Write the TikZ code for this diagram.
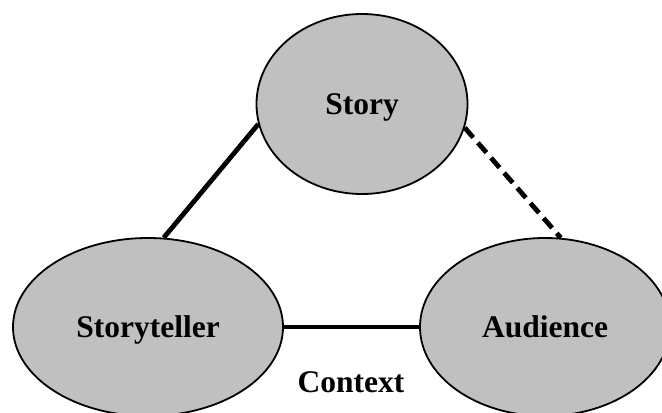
\documentclass[tikz,border=0pt]{standalone}
\usepackage{fontspec}
\setmainfont{Liberation Serif}
\usetikzlibrary{shapes.geometric,backgrounds}
\definecolor{ovalfill}{HTML}{C0C0C0}
\tikzset{
  oval/.style={ellipse, draw=black, line width=1.8bp, fill=ovalfill, inner sep=0pt,
    text depth=0pt, font=\fontsize{31.5bp}{37bp}\selectfont\bfseries},
  link/.style={line width=4.8bp, draw=black},
  dashlink/.style={link, dash pattern=on 13bp off 7bp},
  lbl/.style={font=\fontsize{31.5bp}{37bp}\selectfont\bfseries, anchor=base, inner sep=0pt}
}
\begin{document}
\begin{tikzpicture}[x=1bp,y=1bp]
\useasboundingbox (0,0) rectangle (662,412);
\node[oval, minimum width=211bp, minimum height=180bp] (story) at (362,308) {Story};
\node[oval, minimum width=270bp, minimum height=178bp] (teller) at (148,85) {Storyteller};
\node[oval, minimum width=250bp, minimum height=178bp] (aud) at (545,85) {Audience};
\node[lbl] (ctx) at (351,20) {Context};
\begin{scope}[on background layer]
\draw[link] (story.191) -- (teller.80);
\draw[dashlink] (story.347) -- (aud.80);
\draw[link] (teller.east) -- (aud.west);
\end{scope}
\end{tikzpicture}
\end{document}
